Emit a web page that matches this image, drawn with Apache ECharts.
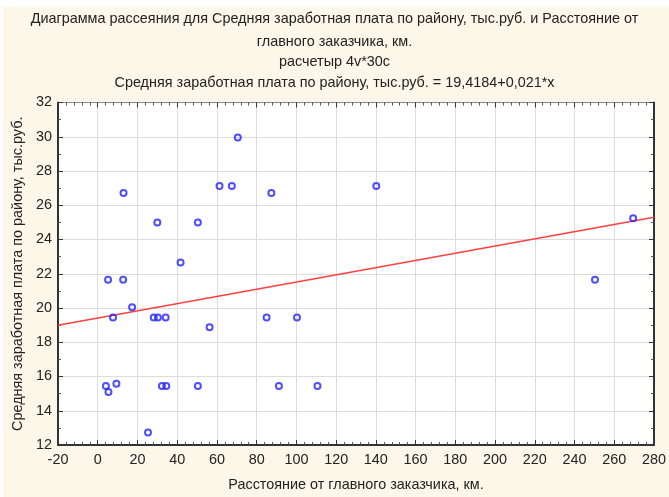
<!DOCTYPE html>
<html>
<head>
<meta charset="utf-8">
<script src="https://cdn.jsdelivr.net/npm/echarts@6/dist/echarts.min.js"></script>
<style>
html,body{margin:0;padding:0;background:#ffffff;overflow:hidden;}
#bg{position:absolute;left:3px;top:7px;width:666px;height:490px;background:#fdf7ea;}
#chart{position:absolute;left:0;top:0;width:669px;height:497px;}
</style>
</head>
<body>
<div id="bg"></div>
<div id="chart"></div>
<script>
// Distance from main customer, km
const distanceKm = [13, 30, 50.4, 41.7, 5.2, 12.8, 7.7, 17.3, 28.2, 30.3, 34.2, 4.1, 5.4, 9.4, 32.3, 34.5, 25.3, 50.4, 70.5, 61.3, 67.5, 87.4, 140.2, 56.3, 85, 100.3, 91.2, 110.6, 269.5, 250.3];
// Average salary by district, thous. rub.
const salary = [26.72, 25, 25, 22.65, 21.65, 21.65, 19.45, 20.05, 19.45, 19.45, 19.45, 15.45, 15.1, 15.57, 15.45, 15.45, 12.73, 15.45, 29.95, 27.12, 27.12, 26.72, 27.12, 18.87, 19.45, 19.45, 15.45, 15.45, 25.24, 21.65];
// Regression line endpoints: y = 19.4184 + 0.021*x
const fitX = [-20, 280];
const fitY = [18.998, 25.298];

const titleLines = [
  'Диаграмма рассеяния для Средняя заработная плата по району, тыс.руб. и Расстояние от',
  'главного заказчика, км.',
  'расчетыр 4v*30c',
  'Средняя заработная плата по району, тыс.руб. = 19,4184+0,021*x'
];
const xName = 'Расстояние от главного заказчика, км.';
const yName = 'Средняя заработная плата по району, тыс.руб.';

const FONT = "'Liberation Sans', Arial, sans-serif";
const titleTops = [11, 34, 54, 75];

const chart = echarts.init(document.getElementById('chart'), null, {renderer: 'canvas'});

const scatterData = distanceKm.map((x, i) => [x, salary[i]]);
const fitData = fitX.map((x, i) => [x, fitY[i]]);

const axisLineDark = {show: true, onZero: false, lineStyle: {color: '#333', width: 2}};

chart.setOption({
  backgroundColor: 'transparent',
  animation: false,
  title: titleLines.map((t, i) => ({
    text: t,
    left: 'center',
    top: titleTops[i],
    padding: 0,
    textStyle: {fontFamily: FONT, fontSize: 14.4, fontWeight: 'normal', color: '#222', lineHeight: 17}
  })),
  grid: {
    left: 58, top: 102.5, right: 13, bottom: 47,
    show: true, backgroundColor: '#ffffff', borderWidth: 0
  },
  xAxis: [
    {
      type: 'value', min: -20, max: 280, interval: 20, position: 'bottom',
      name: xName, nameLocation: 'middle', nameGap: 33,
      nameTextStyle: {fontFamily: FONT, fontSize: 14.4, color: '#222'},
      axisLine: axisLineDark,
      axisTick: {show: true, inside: true, length: 5, lineStyle: {color: '#333', width: 1}},
      minorTick: {show: true, splitNumber: 5, length: 3, lineStyle: {color: '#555', width: 1}},
      axisLabel: {fontFamily: FONT, fontSize: 14.4, color: '#222', margin: 8},
      splitLine: {show: true, lineStyle: {color: '#dcdcdc', width: 1}}
    },
    {
      type: 'value', min: -20, max: 280, interval: 20, position: 'top',
      axisLine: {show: true, onZero: false, lineStyle: {color: '#888', width: 1}},
      axisTick: {show: true, inside: true, length: 5, lineStyle: {color: '#333', width: 1}},
      minorTick: {show: true, splitNumber: 5, length: 3, lineStyle: {color: '#555', width: 1}},
      axisLabel: {show: false},
      splitLine: {show: false}
    }
  ],
  yAxis: [
    {
      type: 'value', min: 12, max: 32, interval: 2, position: 'left',
      name: yName, nameLocation: 'middle', nameGap: 29, nameRotate: 90,
      nameTextStyle: {fontFamily: FONT, fontSize: 14.4, color: '#222'},
      axisLine: axisLineDark,
      axisTick: {show: true, inside: true, length: 5, lineStyle: {color: '#333', width: 1}},
      minorTick: {show: true, splitNumber: 2, length: 3, lineStyle: {color: '#555', width: 1}},
      axisLabel: {fontFamily: FONT, fontSize: 14.4, color: '#222', margin: 6},
      splitLine: {show: true, lineStyle: {color: '#dcdcdc', width: 1}}
    },
    {
      type: 'value', min: 12, max: 32, interval: 2, position: 'right',
      axisLine: axisLineDark,
      axisTick: {show: true, inside: true, length: 5, lineStyle: {color: '#333', width: 1}},
      minorTick: {show: true, splitNumber: 2, length: 3, lineStyle: {color: '#555', width: 1}},
      axisLabel: {show: false},
      splitLine: {show: false}
    }
  ],
  series: [
    {
      type: 'line', data: fitData, xAxisIndex: 0, yAxisIndex: 0,
      symbol: 'none', lineStyle: {color: '#ff4040', width: 1.5}, z: 2
    },
    {
      type: 'scatter', data: scatterData, xAxisIndex: 0, yAxisIndex: 0,
      symbol: 'circle', symbolSize: 6,
      itemStyle: {color: 'rgba(0,0,0,0)', borderColor: '#2323ff', borderWidth: 2},
      z: 3
    }
  ]
});
</script>
</body>
</html>
